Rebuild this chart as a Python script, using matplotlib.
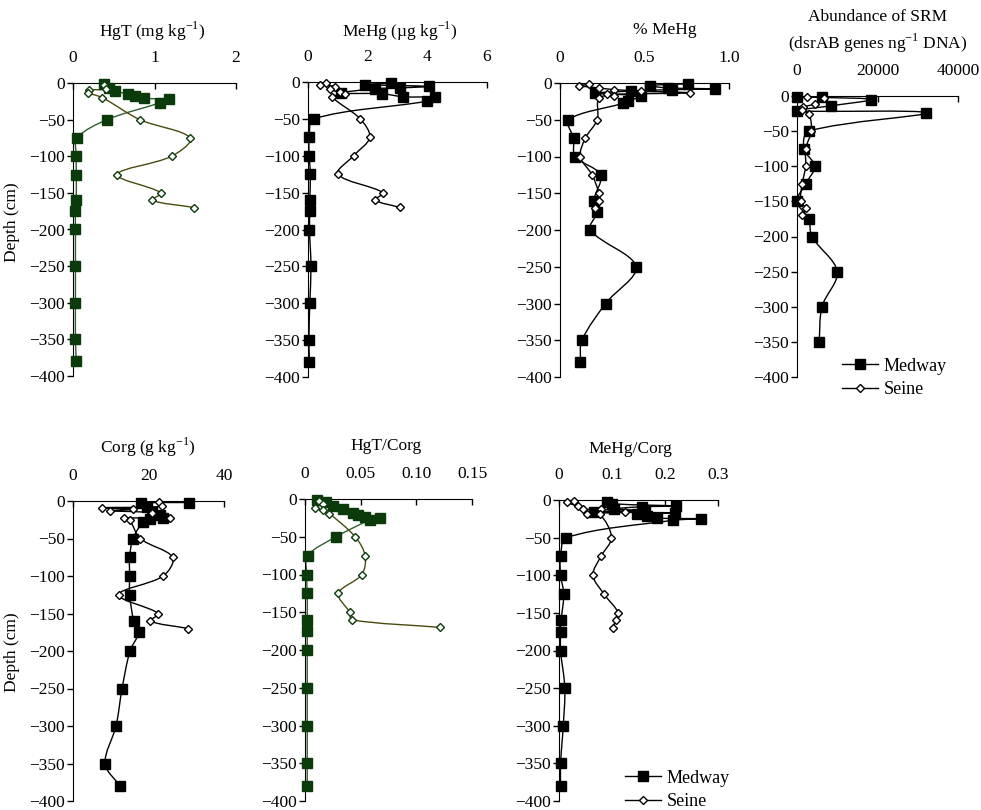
import numpy as np
import matplotlib
matplotlib.use("Agg")
import matplotlib.pyplot as plt
from matplotlib.lines import Line2D
from matplotlib.path import Path
from matplotlib.patches import PathPatch

plt.rcParams['font.family'] = ['Liberation Serif', 'DejaVu Serif']
plt.rcParams['font.size'] = 12.5

# ---- data (depth in cm) ----
hgt_med_d = [-2, -7, -11, -15, -18, -21, -22, -27, -50, -75, -100, -125, -160, -175, -200, -250, -300, -350, -380]
hgt_med = [0.38, 0.44, 0.52, 0.67, 0.76, 0.87, 1.18, 1.07, 0.42, 0.05, 0.04, 0.04, 0.04, 0.03, 0.03, 0.03, 0.03, 0.03, 0.04]
hgt_sei_d = [-3, -8, -10, -13, -20, -50, -75, -100, -125, -150, -160, -170]
hgt_sei = [0.38, 0.40, 0.20, 0.18, 0.36, 0.82, 1.44, 1.21, 0.54, 1.08, 0.97, 1.49]

mehg_med_d = [-1.5, -3.5, -6, -8, -9, -15, -16, -20, -21, -26, -50, -75, -100, -125, -160, -175, -200, -250, -300, -350, -380]
mehg_med = [2.78, 1.9, 4.04, 3.07, 2.26, 1.1, 2.48, 3.2, 4.27, 4.0, 0.19, 0.04, 0.04, 0.08, 0.06, 0.06, 0.05, 0.1, 0.06, 0.03, 0.05]
mehg_sei_d = [-1.5, -3.5, -6.6, -10, -13.7, -16.8, -20, -50, -75, -100, -125, -150, -160, -170]
mehg_sei = [0.61, 0.41, 0.92, 0.75, 1.08, 1.25, 0.82, 1.75, 2.07, 1.53, 1.0, 2.51, 2.26, 3.07]

pct_med_d = [-1, -3.6, -6.7, -8, -9, -11, -14, -18, -24.5, -27.7, -50, -75, -100, -125, -160, -175, -200, -250, -300, -350, -380]
pct_med = [0.76, 0.53, 0.64, 0.92, 0.66, 0.42, 0.21, 0.48, 0.40, 0.37, 0.05, 0.08, 0.09, 0.24, 0.20, 0.22, 0.18, 0.45, 0.27, 0.13, 0.12]
pct_sei_d = [-2, -3.6, -6.7, -9, -11, -13.4, -15.6, -18, -20, -50, -75, -100, -125, -150, -160, -170]
pct_sei = [0.17, 0.11, 0.23, 0.32, 0.48, 0.77, 0.28, 0.32, 0.23, 0.22, 0.15, 0.12, 0.19, 0.23, 0.23, 0.21]

srm_med_d = [-1, -2, -5, -14, -21, -24, -50, -75, -100, -125, -150, -175, -200, -250, -300, -350]
srm_med = [0, 6300, 18500, 8400, 0, 32100, 2900, 1700, 4400, 2150, 0, 2900, 3700, 10000, 6200, 5500]
srm_sei_d = [-1.5, -3, -11, -16, -20, -26, -50, -75, -100, -125, -150, -160, -170]
srm_sei = [2500, 6700, 4550, 1500, 1200, 3000, 3560, 2150, 2150, 1300, 900, 2150, 1250]

corg_med_d = [-2, -3, -8, -14, -19, -22, -24, -28, -50, -75, -100, -125, -160, -175, -200, -250, -300, -350, -380]
corg_med = [30.8, 18.1, 19.5, 20.8, 23, 23.9, 20.4, 18.6, 15.9, 15, 15, 15, 16.1, 17.4, 15.1, 13, 11.4, 8.5, 12.4]
corg_sei_d = [-1, -7, -9, -11, -13, -15.6, -22, -23, -25.5, -50, -75, -100, -125, -150, -160, -170]
corg_sei = [22.8, 23.6, 7.8, 15.9, 9.9, 20.8, 25.7, 13.5, 15, 17.8, 26.4, 23.9, 12.1, 22.6, 20.5, 30.5]

hgc_med_d = [-1, -4.4, -9, -13, -18, -21, -24, -25, -28, -50, -75, -100, -125, -160, -175, -200, -250, -300, -350, -380]
hgc_med = [0.011, 0.019, 0.025, 0.034, 0.043, 0.048, 0.054, 0.067, 0.058, 0.028, 0.0024, 0.0015, 0.002, 0.002, 0.002, 0.002, 0.002, 0.002, 0.002, 0.002]
hgc_sei_d = [-3, -6, -12, -15, -19.5, -50, -75, -100, -125, -150, -160, -170]
hgc_sei = [0.013, 0.016, 0.009, 0.016, 0.022, 0.045, 0.054, 0.051, 0.030, 0.040, 0.042, 0.121]

mhc_med_d = [-2, -5, -8, -9, -12, -14, -16, -17, -18, -21, -24, -25, -27, -50, -75, -100, -125, -160, -175, -200, -250, -300, -350, -380]
mhc_med = [0.091, 0.10, 0.22, 0.156, 0.104, 0.162, 0.066, 0.219, 0.147, 0.166, 0.184, 0.267, 0.215, 0.014, 0.003, 0.003, 0.009, 0.004, 0.003, 0.003, 0.011, 0.008, 0.003, 0.003]
mhc_sei_d = [-1, -3, -8.6, -12, -12.5, -16, -18, -19, -50, -75, -100, -125, -150, -160, -170]
mhc_sei = [0.028, 0.016, 0.036, 0.045, 0.08, 0.124, 0.052, 0.077, 0.099, 0.079, 0.064, 0.085, 0.112, 0.107, 0.101]

green_dark = '#0b3a0b'
green_line = '#2f5f2f'
olive_line = '#4a4a10'

fig = plt.figure(figsize=(9.81, 8.1), dpi=100)
W, H = 981.0, 810.0


def smooth_line(ax, x, y, color):
    # smoothed line like Excel: cubic Bezier through the points,
    # tangents weighted by on-screen segment length to limit overshoot
    pts = np.column_stack([x, y]).astype(float)
    scr = ax.transData.transform(pts)
    n = len(pts)
    seg = np.hypot(*np.diff(scr, axis=0).T) + 1e-9
    verts = [pts[0]]
    codes = [Path.MOVETO]
    for i in range(n - 1):
        p1, p2 = pts[i], pts[i + 1]
        d12 = seg[i]
        if i > 0:
            c1 = p1 + (p2 - pts[i - 1]) * d12 / (seg[i - 1] + d12) / 3.0
        else:
            c1 = p1 + (p2 - p1) / 3.0
        if i + 2 < n:
            c2 = p2 - (pts[i + 2] - p1) * d12 / (d12 + seg[i + 1]) / 3.0
        else:
            c2 = p2 - (p2 - p1) / 3.0
        verts += [c1, c2, p2]
        codes += [Path.CURVE4] * 3
    ax.add_patch(PathPatch(Path(verts, codes), facecolor='none', edgecolor=color,
                           lw=1.0, clip_on=False, zorder=2))


def panel(left, right, top, bottom, title, tx, ty, xmax, xticks, xticklabels,
          med, sei, colored=False):
    ax = fig.add_axes([left / W, 1 - bottom / H, (right - left) / W, (bottom - top) / H])
    ax.set_xlim(0, xmax)
    ax.set_ylim(-400, 0)
    if colored:
        mc, ml, sc, sl = green_dark, green_line, green_dark, olive_line
    else:
        mc, ml, sc, sl = 'black', 'black', 'black', 'black'
    smooth_line(ax, med[1], med[0], ml)
    smooth_line(ax, sei[1], sei[0], sl)
    ax.plot(med[1], med[0], ls='none', marker='s', ms=7,
            mfc=mc, mec=mc, clip_on=False, zorder=3)
    ax.plot(sei[1], sei[0], ls='none', marker='D', ms=4.5,
            mfc='white', mec=sc, mew=1.0, clip_on=False, zorder=4)
    ax.set_xlim(0, xmax)
    ax.set_ylim(-400, 0)
    ax.set_yticks(np.arange(-400, 1, 50))
    ax.set_xticks(xticks)
    ax.set_xticklabels(xticklabels)
    ax.xaxis.tick_top()
    ax.spines['right'].set_visible(False)
    ax.spines['bottom'].set_visible(False)
    ax.tick_params(axis='x', direction='in', length=4, pad=12, width=1)
    ax.tick_params(axis='y', direction='out', length=4, pad=2, width=1)
    fig.text(tx / W, 1 - ty / H, title, ha='center', va='center', linespacing=1.45)
    return ax


panel(73, 236, 83, 376, 'HgT (mg kg$^{\\mathregular{-1}}$)', 152, 31, 2, [0, 1, 2], ['0', '1', '2'],
      (hgt_med_d, hgt_med), (hgt_sei_d, hgt_sei), colored=True)
panel(308, 487, 82, 377, 'MeHg (µg kg$^{\\mathregular{-1}}$)', 400, 31, 6, [0, 2, 4, 6], ['0', '2', '4', '6'],
      (mehg_med_d, mehg_med), (mehg_sei_d, mehg_sei))
panel(560, 729, 83, 377, '% MeHg', 665, 30, 1.0, [0, 0.5, 1.0], ['0', '0.5', '1.0'],
      (pct_med_d, pct_med), (pct_sei_d, pct_sei))
panel(797, 958, 96, 377, 'Abundance of SRM\n(dsrAB genes ng$^{\\mathregular{-1}}$ DNA)', 878, 32,
      40000, [0, 20000, 40000], ['0', '20000', '40000'],
      (srm_med_d, srm_med), (srm_sei_d, srm_sei))
panel(73, 224, 501, 801, 'Corg (g kg$^{\\mathregular{-1}}$)', 148, 447, 40, [0, 20, 40], ['0', '20', '40'],
      (corg_med_d, corg_med), (corg_sei_d, corg_sei))
panel(305, 472, 499, 801, 'HgT/Corg', 386, 446, 0.15, [0, 0.05, 0.10, 0.15], ['0', '0.05', '0.10', '0.15'],
      (hgc_med_d, hgc_med), (hgc_sei_d, hgc_sei), colored=True)
panel(559, 718, 500, 801, 'MeHg/Corg', 630, 449, 0.3, [0, 0.1, 0.2, 0.3], ['0', '0.1', '0.2', '0.3'],
      (mhc_med_d, mhc_med), (mhc_sei_d, mhc_sei))

fig.text(12 / W, 1 - 222 / H, 'Depth (cm)', rotation=90, ha='center', va='center')
fig.text(12 / W, 1 - 652 / H, 'Depth (cm)', rotation=90, ha='center', va='center')

handles = [Line2D([], [], color='black', lw=1.0, marker='s', ms=7, mfc='black', mec='black'),
           Line2D([], [], color='black', lw=1.0, marker='D', ms=4.5, mfc='white', mec='black')]
for (lx, ly) in [(842 / W, 1 - 398 / H), (625 / W, 1 - 810 / H)]:
    fig.legend(handles, ['Medway', 'Seine'], loc='lower left', bbox_to_anchor=(lx, ly),
               frameon=False, handlelength=2.0, handletextpad=0.3, labelspacing=0.35,
               fontsize=13, borderpad=0, borderaxespad=0)

fig.savefig('out.png', dpi=100)
